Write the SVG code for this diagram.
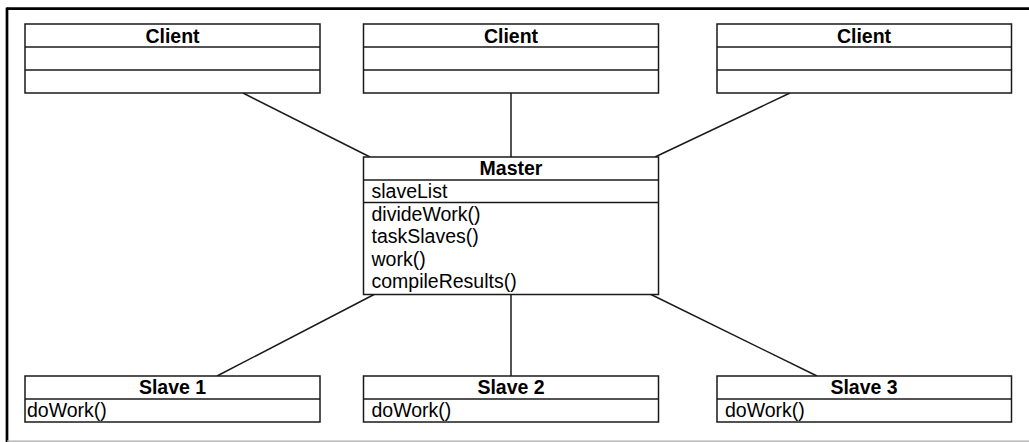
<svg xmlns="http://www.w3.org/2000/svg" width="1029" height="442" viewBox="0 0 1029 442">
<style>
.box{fill:#fff;stroke:#1a1a1a;stroke-width:1.5}
.sep{stroke:#1a1a1a;stroke-width:1.5}
.t{font-family:"Liberation Sans",Arial,sans-serif;font-size:19.5px;font-weight:bold;text-anchor:middle;fill:#000}
.m{font-family:"Liberation Sans",Arial,sans-serif;font-size:19.5px;fill:#000}
.c{stroke:#1a1a1a;stroke-width:1.5;fill:none}
</style>
<rect width="1029" height="442" fill="#fff"/>
<g id="frame">
<line x1="7" y1="8.7" x2="1029" y2="8.7" stroke="#000" stroke-width="2.7"/>
<line x1="7" y1="7.5" x2="7" y2="442" stroke="#000" stroke-width="2.7"/>
<line x1="7" y1="441.2" x2="1029" y2="441.2" stroke="#aaa" stroke-width="1.2"/>
</g>
<g id="connectors">
<line class="c" x1="243" y1="93" x2="370" y2="157"/>
<line class="c" x1="511" y1="93" x2="511" y2="157"/>
<line class="c" x1="790" y1="93" x2="655" y2="157"/>
<line class="c" x1="375" y1="294" x2="217" y2="376"/>
<line class="c" x1="511" y1="294" x2="511" y2="376"/>
<line class="c" x1="650" y1="294" x2="817" y2="376"/>
</g>
<g id="client1">
<rect class="box" x="25" y="24" width="295" height="69"/>
<line class="sep" x1="25" y1="47" x2="320" y2="47"/>
<line class="sep" x1="25" y1="70" x2="320" y2="70"/>
<text class="t" x="172.5" y="42.5">Client</text>
</g>
<g id="client2">
<rect class="box" x="363.5" y="24" width="295" height="69"/>
<line class="sep" x1="363.5" y1="47" x2="658.5" y2="47"/>
<line class="sep" x1="363.5" y1="70" x2="658.5" y2="70"/>
<text class="t" x="511" y="42.5">Client</text>
</g>
<g id="client3">
<rect class="box" x="717" y="24" width="294.5" height="69"/>
<line class="sep" x1="717" y1="47" x2="1011.5" y2="47"/>
<line class="sep" x1="717" y1="70" x2="1011.5" y2="70"/>
<text class="t" x="864" y="42.5">Client</text>
</g>
<g id="master">
<rect class="box" x="363.5" y="157" width="295" height="137.5"/>
<line class="sep" x1="363.5" y1="180" x2="658.5" y2="180"/>
<line class="sep" x1="363.5" y1="202.5" x2="658.5" y2="202.5"/>
<text class="t" x="511" y="175">Master</text>
<text class="m" x="371.5" y="198">slaveList</text>
<text class="m" x="371.5" y="220.5">divideWork()</text>
<text class="m" x="371.5" y="243">taskSlaves()</text>
<text class="m" x="371.5" y="265.5">work()</text>
<text class="m" x="371.5" y="288">compileResults()</text>
</g>
<g id="slave1">
<rect class="box" x="25" y="376" width="295" height="46"/>
<line class="sep" x1="25" y1="399" x2="320" y2="399"/>
<text class="t" x="172.5" y="394">Slave 1</text>
<text class="m" x="27" y="417">doWork()</text>
</g>
<g id="slave2">
<rect class="box" x="363.5" y="376" width="295" height="46"/>
<line class="sep" x1="363.5" y1="399" x2="658.5" y2="399"/>
<text class="t" x="511" y="394">Slave 2</text>
<text class="m" x="371.5" y="417">doWork()</text>
</g>
<g id="slave3">
<rect class="box" x="717" y="376" width="294.5" height="46"/>
<line class="sep" x1="717" y1="399" x2="1011.5" y2="399"/>
<text class="t" x="864" y="394">Slave 3</text>
<text class="m" x="725" y="417">doWork()</text>
</g>
</svg>
